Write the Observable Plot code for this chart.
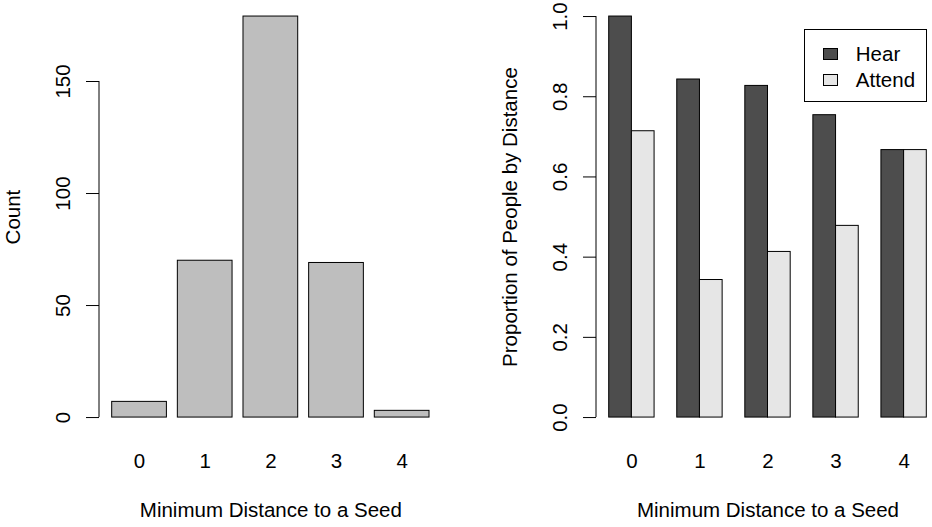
<!DOCTYPE html>
<html>
<head>
<meta charset="utf-8">
<script src="https://cdn.jsdelivr.net/npm/d3@7"></script>
<script src="https://cdn.jsdelivr.net/npm/@observablehq/plot@0.6"></script>
<style>
  html, body { margin: 0; padding: 0; background: white; overflow: hidden; }
  #wrap { position: relative; width: 932px; height: 527px; background: white;
          font-family: 'Liberation Sans', Arial, Helvetica, sans-serif; }
  .panel { position: absolute; top: 0; width: 466px; height: 527px; overflow: hidden; }
  .panel svg { max-width: none !important; display: block; }
  #legend { position: absolute; left: 804px; top: 29px; width: 122.5px; height: 72.5px;
            border: 1px solid black; box-sizing: border-box; background: white; }
  .sw { position: absolute; left: 17.7px; width: 15.6px; height: 12px; border: 1px solid black; box-sizing: border-box; }
  .lt { position: absolute; left: 50.8px; font-size: 20.5px; line-height: 20px; white-space: nowrap; color: black; }
</style>
</head>
<body>
<div id="wrap">
  <div class="panel" id="left" style="left:0px"></div>
  <div class="panel" id="right" style="left:466px"></div>
  <div class="panel" id="rightAxis" style="left:466px; pointer-events:none"></div>
  <div id="legend"></div>
</div>
<script>
// ---- data ----
const distances = ["0", "1", "2", "3", "4"];
const counts = [7, 70, 179, 69, 3];
const series = ["Hear", "Attend"];
const hearProp = [1.0, 0.843, 0.827, 0.754, 0.667];
const attendProp = [0.714, 0.343, 0.413, 0.478, 0.667];
const countTicks = [0, 50, 100, 150];
const propTicks = [0, 0.2, 0.4, 0.6, 0.8, 1.0];
const seriesColors = ["#4D4D4D", "#E6E6E6"];
const countFill = "#BEBEBE";
const xTitle = "Minimum Distance to a Seed";
const yTitleLeft = "Count";
const yTitleRight = "Proportion of People by Distance";

const countData = distances.map((d, i) => ({d, n: counts[i]}));
const propData = distances.flatMap((d, i) => series.map((s, j) => ({d, s, v: j === 0 ? hearProp[i] : attendProp[i]})));

const font = {fontFamily: "'Liberation Sans', Arial, Helvetica, sans-serif", fontSize: "20.5px", background: "white", color: "black", overflow: "visible", maxWidth: "none"};
const fontClear = {...font, background: "transparent"};
const cmax = d3.max(counts);

function axisLine(svg, x, ticks) {
  const y = svg.scale("y");
  d3.select(svg).append("line")
    .attr("x1", x).attr("x2", x)
    .attr("y1", y.apply(ticks[0])).attr("y2", y.apply(ticks[ticks.length - 1]))
    .attr("stroke", "black").attr("stroke-width", 1);
}

// ---- left panel ----
const left = Plot.plot({
  width: 466, height: 527,
  marginLeft: 99, marginRight: 24.3, marginTop: 0, marginBottom: 93.9,
  style: font,
  x: {type: "band", domain: distances, paddingInner: 1/6, paddingOuter: 0.1933, round: false},
  y: {domain: [-0.04 * cmax, 1.04 * cmax]},
  marks: [
    Plot.barY(countData, {x: "d", y: "n", fill: countFill, stroke: "black", strokeWidth: 1}),
    Plot.axisX({tickSize: 0, tickPadding: 19.4, label: null}),
    Plot.axisY(countTicks, {tickSize: 13, tickPadding: 16.5, tickRotate: -90, label: null}),
    Plot.text([yTitleLeft], {text: d => d, frameAnchor: "left", textAnchor: "middle", rotate: -90, lineAnchor: "bottom", dx: -80}),
    Plot.text([xTitle], {text: d => d, frameAnchor: "bottom", textAnchor: "middle", lineAnchor: "bottom", dy: 83})
  ]
});
axisLine(left, 99, countTicks);
document.getElementById("left").appendChild(left);

// ---- right panel: grouped bars ----
const rightDims = {width: 480, height: 527, marginLeft: 130, marginRight: 7, marginTop: 0, marginBottom: 93.9};
const right = Plot.plot({
  ...rightDims,
  style: font,
  fx: {domain: distances, paddingInner: 1/3, paddingOuter: 0.1867, round: false},
  x: {domain: series, padding: 0, round: false, axis: null},
  y: {domain: [-0.04, 1.04], axis: null},
  color: {domain: series, range: seriesColors},
  marks: [
    Plot.barY(propData, {fx: "d", x: "s", y: "v", fill: "s", stroke: "black", strokeWidth: 1}),
    Plot.axisFx({anchor: "bottom", tickSize: 0, tickPadding: 19.4, label: null})
  ]
});
document.getElementById("right").appendChild(right);

// ---- right panel: y axis and titles (same frame) ----
const rightAxis = Plot.plot({
  ...rightDims,
  style: fontClear,
  y: {domain: [-0.04, 1.04]},
  marks: [
    Plot.axisY(propTicks, {tickFormat: d3.format(".1f"), tickSize: 13, tickPadding: 16.5, tickRotate: -90, label: null}),
    Plot.text([yTitleRight], {text: d => d, frameAnchor: "left", textAnchor: "middle", rotate: -90, lineAnchor: "bottom", dx: -80}),
    Plot.text([xTitle], {text: d => d, frameAnchor: "bottom", textAnchor: "middle", lineAnchor: "bottom", dy: 83})
  ]
});
axisLine(rightAxis, 130, propTicks);
document.getElementById("rightAxis").appendChild(rightAxis);

// ---- legend ----
const legend = document.getElementById("legend");
const swTops = [18.3, 43.8];
const txtTops = [14.1, 39.8];
series.forEach((s, i) => {
  const sw = document.createElement("div");
  sw.className = "sw";
  sw.style.top = swTops[i] + "px";
  sw.style.background = seriesColors[i];
  legend.appendChild(sw);
  const t = document.createElement("div");
  t.className = "lt";
  t.style.top = txtTops[i] + "px";
  t.textContent = s;
  legend.appendChild(t);
});
</script>
</body>
</html>
